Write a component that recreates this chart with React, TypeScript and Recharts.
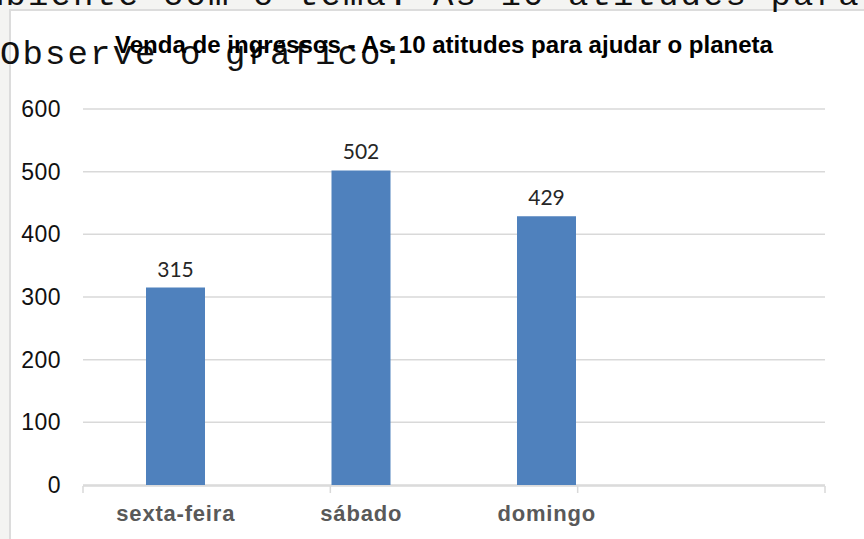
import React from 'react';
import { BarChart, Bar, XAxis, YAxis, CartesianGrid, LabelList } from 'recharts';

const categories = ['sexta-feira', 'sábado', 'domingo', ''];
const ingressos: (number | null)[] = [315, 502, 429, null];
const yTicks = [0, 100, 200, 300, 400, 500, 600];
const boundaryTicks = [0, 1, 2, 3, 4];
const chartTitle = 'Venda de ingressos - As 10 atitudes para ajudar o planeta';
const topLine = 'mbiente com o tema: As 10 atitudes para';
const observeLine = 'Observe o gráfico:';

const data = categories.map((dia, i) => ({ dia, ingressos: ingressos[i] }));

const EmptyTick = () => <g />;

export default function App() {
  return (
    <div
      style={{
        position: 'absolute',
        left: 0,
        top: 0,
        width: 864,
        height: 539,
        background: '#f4f4f2',
        overflow: 'hidden',
      }}
    >
      <div
        style={{
          position: 'absolute',
          left: 9,
          top: 9,
          width: 855,
          height: 530,
          boxSizing: 'border-box',
          background: '#ffffff',
          borderLeft: '2px solid #dcdcdc',
          borderTop: '2px solid #dcdcdc',
        }}
      />
      <div style={{ position: 'absolute', left: 0, top: 0 }}>
        <BarChart
          width={864}
          height={539}
          data={data}
          margin={{ top: 109, right: 39, bottom: 52, left: 0 }}
        >
          <CartesianGrid vertical={false} stroke="#d9d9d9" strokeWidth={1.5} />
          <YAxis
            type="number"
            domain={[0, 600]}
            ticks={yTicks}
            width={83}
            axisLine={false}
            tickLine={false}
            tickSize={6}
            tickMargin={16}
            interval={0}
            tick={{ fill: '#111111', fontSize: 23, fontFamily: 'Liberation Sans, Arial', letterSpacing: 0.5 }}
          />
          <XAxis
            xAxisId="b"
            type="number"
            domain={[0, 4]}
            ticks={boundaryTicks}
            allowDataOverflow
            interval={0}
            height={1}
            tick={<EmptyTick />}
            tickSize={7}
            axisLine={{ stroke: '#d9d9d9', strokeWidth: 1.5 }}
            tickLine={{ stroke: '#d9d9d9', strokeWidth: 1.5 }}
          />
          <XAxis
            dataKey="dia"
            height={1}
            axisLine={false}
            tickLine={false}
            tickSize={6}
            tickMargin={14}
            interval={0}
            tick={{ fill: '#595959', fontSize: 22, fontWeight: 'bold', fontFamily: 'Liberation Sans, Arial', letterSpacing: 0.8 }}
          />
          <Bar dataKey="ingressos" fill="#4f81bd" barSize={59} isAnimationActive={false}>
            <LabelList
              dataKey="ingressos"
              position="top"
              offset={11}
              fill="#262626"
              fontSize={21}
              fontFamily="Lato, 'Open Sans', sans-serif"
            />
          </Bar>
        </BarChart>
      </div>
      <svg
        width={864}
        height={539}
        style={{ position: 'absolute', left: 0, top: 0, pointerEvents: 'none' }}
      >
        <text
          x={-17}
          y={5}
          fontFamily="Liberation Mono, Courier New, monospace"
          fontSize={34}
          letterSpacing={2.1}
          fill="#111111"
        >
          {topLine}
        </text>
        <text
          x={0}
          y={64}
          fontFamily="Liberation Mono, Courier New, monospace"
          fontSize={34}
          letterSpacing={2.1}
          fill="#111111"
        >
          {observeLine}
        </text>
        <text
          x={115}
          y={53}
          fontFamily="Liberation Sans, Arial"
          fontWeight="bold"
          fontSize={23.5}
          textLength={658}
          lengthAdjust="spacingAndGlyphs"
          fill="#000000"
        >
          {chartTitle}
        </text>
      </svg>
    </div>
  );
}
